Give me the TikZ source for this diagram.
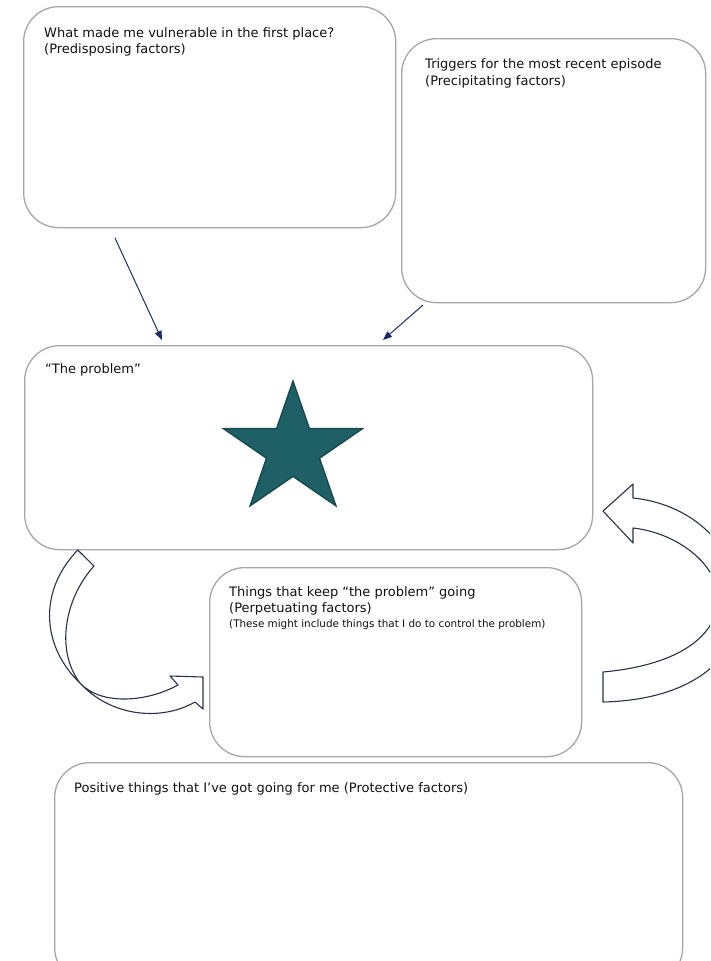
\documentclass[tikz,border=0pt]{standalone}
\usepackage{fontspec}
\setmainfont{DejaVu Sans}
\usetikzlibrary{arrows.meta}

\definecolor{boxline}{HTML}{A6A6A6}
\definecolor{navyline}{HTML}{1C2A6B}
\definecolor{bendline}{HTML}{2A3248}
\definecolor{starfill}{HTML}{1F6066}
\definecolor{starline}{HTML}{174A4F}
\definecolor{ink}{HTML}{111111}

\tikzset{
  panel/.style={draw=boxline, line width=1.3pt, rounded corners=35pt,
    fill=white, inner sep=0pt, anchor=north west},
  lbl/.style={anchor=base west, inner sep=0pt, text=ink,
    font=\fontsize{13}{16}\selectfont},
  smalllbl/.style={lbl, font=\fontsize{10.4}{12}\selectfont},
  flow/.style={draw=navyline, line width=1pt,
    -{Triangle[length=9pt,width=7pt]}},
  bendarrow/.style={draw=bendline, line width=1.1pt, fill=white,
    line join=round},
}

\begin{document}
\begin{tikzpicture}[x=1pt, y=-1pt]
\path[use as bounding box] (0,0) rectangle (710,961);
\clip (0,0) rectangle (710,961);

% the five panels
\node[panel, minimum width=372pt, minimum height=221pt] (pre) at (23,6) {};
\node[panel, minimum width=304pt, minimum height=264pt] (prec) at (401,38) {};
\node[panel, minimum width=568pt, minimum height=204pt] (prob) at (24,345) {};
\node[panel, minimum width=372pt, minimum height=189pt] (perp) at (209,567) {};
\node[panel, minimum width=628pt, minimum height=220pt] (prot) at (54,762) {};

% panel headings
\node[lbl] (preA) at (44,37) {What made me vulnerable in the first place?};
\node[lbl] (preB) at (44,53) {(Predisposing factors)};
\node[lbl] (precA) at (425,68) {Triggers for the most recent episode};
\node[lbl] (precB) at (425,85) {(Precipitating factors)};
\node[lbl] (probA) at (45,373) {“The problem”};
\node[lbl] (perpA) at (229,596) {Things that keep “the problem” going};
\node[lbl] (perpB) at (229,612) {(Perpetuating factors)};
\node[smalllbl] (perpC) at (229,627) {(These might include things that I do to control the problem)};
\node[lbl] (protA) at (74,792) {Positive things that I’ve got going for me (Protective factors)};

% straight connectors into the problem panel
\coordinate (preOut) at (115,238);
\coordinate (probInL) at (162,340);
\coordinate (precOut) at (423,305);
\coordinate (probInR) at (383,340);
\draw[flow] (preOut) -- (probInL);
\draw[flow] (precOut) -- (probInR);

% star in the problem panel
\fill[starfill, draw=starline, line width=1.4pt, line join=miter]
  (293,381) -- (309.4,428.6) -- (362.4,428.7) -- (319.5,458.2)
  -- (335.9,505.8) -- (293,476.4) -- (250.1,505.8) -- (266.5,458.2)
  -- (223.6,428.7) -- (276.6,428.6) -- cycle;

% curved block arrow: problem -> perpetuating factors
\draw[bendarrow]
  (77.7,550) -- (94,566)
  .. controls (65,598) and (55,650) .. (80,683)
  .. controls (100,705) and (145,703) .. (178,685)
  -- (170,676) -- (203,677) -- (203,709) -- (195,702)
  .. controls (160,722) and (110,716) .. (80,683)
  .. controls (45,650) and (35,595) .. (77.7,550) -- cycle;

% curved block arrow: perpetuating factors -> problem
\draw[bendarrow]
  (603,672) -- (603,702)
  .. controls (690,700) and (740,660) .. (740,605)
  .. controls (740,555) and (700,505) .. (633,498)
  -- (633,484) -- (603,511) -- (633,543) -- (633,528)
  .. controls (678,533) and (718,565) .. (718,598)
  .. controls (718,635) and (680,665) .. (603,672) -- cycle;
\end{tikzpicture}
\end{document}
